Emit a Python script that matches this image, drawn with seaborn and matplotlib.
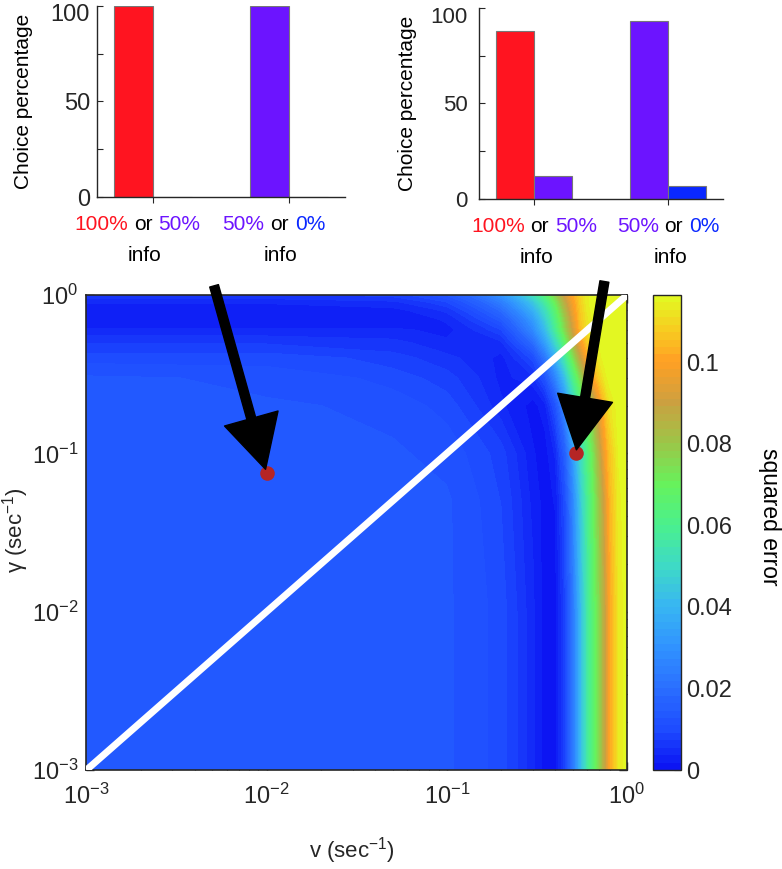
import numpy as np
import pandas as pd
import matplotlib
matplotlib.use("Agg")
import matplotlib.pyplot as plt
import matplotlib.transforms as mtransforms
import seaborn as sns
from matplotlib.colors import LinearSegmentedColormap
from matplotlib.offsetbox import TextArea, HPacker, AnnotationBbox
from matplotlib.ticker import LogLocator, NullFormatter

# ---- bar chart data (choice percentage) ----
groups = ["high", "low"]
left_first = [100, 100]
left_second = [0, 0]
right_first = [88, 93]
right_second = [12, 7]

# ---- squared error surface ----
v_grid = [0.001, 0.01, 0.05, 0.1, 0.2, 0.3, 0.35, 0.4, 0.45, 0.5,
          0.55, 0.6, 0.65, 0.7, 0.75, 0.8, 0.9, 1.0]
gamma_grid = [0.001, 0.01, 0.05, 0.1, 0.2, 0.3, 0.4, 0.5, 0.6, 0.7, 0.8, 0.9, 1.0]
err_g0001 = [0.014, 0.014, 0.014, 0.013, 0.010, 0.004, 0.001, 0.001, 0.008, 0.022, 0.040, 0.055, 0.066, 0.076, 0.087, 0.100, 0.113, 0.116]
err_g001 = [0.014, 0.014, 0.014, 0.013, 0.010, 0.004, 0.001, 0.001, 0.008, 0.022, 0.040, 0.055, 0.066, 0.076, 0.087, 0.100, 0.113, 0.116]
err_g005 = [0.014, 0.014, 0.014, 0.013, 0.009, 0.003, 0.001, 0.002, 0.010, 0.026, 0.044, 0.058, 0.069, 0.080, 0.091, 0.103, 0.114, 0.116]
err_g01 = [0.014, 0.014, 0.013, 0.012, 0.008, 0.002, 0.001, 0.004, 0.015, 0.032, 0.050, 0.062, 0.073, 0.085, 0.097, 0.106, 0.115, 0.116]
err_g02 = [0.014, 0.013, 0.012, 0.010, 0.004, 0.001, 0.003, 0.012, 0.028, 0.046, 0.060, 0.071, 0.083, 0.095, 0.105, 0.112, 0.116, 0.116]
err_g03 = [0.013, 0.012, 0.010, 0.008, 0.003, 0.005, 0.012, 0.026, 0.042, 0.060, 0.075, 0.088, 0.100, 0.108, 0.113, 0.116, 0.116, 0.116]
err_g04 = [0.010, 0.010, 0.008, 0.006, 0.003, 0.010, 0.022, 0.038, 0.055, 0.072, 0.088, 0.100, 0.108, 0.113, 0.116, 0.116, 0.116, 0.116]
err_g05 = [0.007, 0.007, 0.006, 0.004, 0.005, 0.019, 0.033, 0.049, 0.066, 0.083, 0.097, 0.107, 0.112, 0.115, 0.116, 0.116, 0.116, 0.116]
err_g06 = [0.004, 0.004, 0.004, 0.003, 0.009, 0.027, 0.041, 0.058, 0.075, 0.090, 0.104, 0.111, 0.115, 0.116, 0.116, 0.116, 0.116, 0.116]
err_g07 = [0.002, 0.002, 0.002, 0.004, 0.014, 0.032, 0.046, 0.062, 0.078, 0.093, 0.106, 0.112, 0.115, 0.116, 0.116, 0.116, 0.116, 0.116]
err_g08 = [0.002, 0.002, 0.003, 0.006, 0.019, 0.038, 0.051, 0.066, 0.082, 0.096, 0.107, 0.113, 0.116, 0.116, 0.116, 0.116, 0.116, 0.116]
err_g09 = [0.004, 0.004, 0.005, 0.009, 0.024, 0.044, 0.057, 0.071, 0.086, 0.098, 0.108, 0.114, 0.116, 0.116, 0.116, 0.116, 0.116, 0.116]
err_g1 = [0.007, 0.007, 0.008, 0.013, 0.030, 0.052, 0.064, 0.077, 0.091, 0.101, 0.109, 0.114, 0.116, 0.116, 0.116, 0.116, 0.116, 0.116]

diag = [1e-3, 1.0]
dots_v = [0.01, 0.52]
dots_gamma = [0.075, 0.1]

cbar_ticks = [0, 0.02, 0.04, 0.06, 0.08, 0.1]
cbar_labels = ["0", "0.02", "0.04", "0.06", "0.08", "0.1"]
log_ticks = [1e-3, 1e-2, 1e-1, 1.0]
log_labels = [r"$\mathregular{10^{-3}}$", r"$\mathregular{10^{-2}}$",
              r"$\mathregular{10^{-1}}$", r"$\mathregular{10^{0}}$"]

RED = "#ff1420"
PURPLE = "#6c14ff"
BLUE = "#0a28ff"
DARK = "#262626"

sns.set_style("ticks")
plt.rcParams["font.family"] = ["Liberation Sans", "DejaVu Sans"]
plt.rcParams["mathtext.fontset"] = "custom"
plt.rcParams["mathtext.rm"] = "Liberation Sans"
plt.rcParams["text.color"] = DARK

fig = plt.figure(figsize=(7.82, 8.69), dpi=100)

ax_l = fig.add_axes([0.124, 0.7733, 0.317, 0.2198])
ax_r = fig.add_axes([0.6125, 0.771, 0.312, 0.2198])
ax_h = fig.add_axes([0.1105, 0.1139, 0.6913, 0.5466])
cax = fig.add_axes([0.835, 0.1139, 0.0358, 0.5466])


def info_label(ax, xpos, parts, size, dx1, dx2, dy1, dy2):
    areas = [TextArea(t, textprops=dict(color=c, size=size)) for t, c in parts]
    pack = HPacker(children=areas, align="baseline", pad=0, sep=4.2)
    ab = AnnotationBbox(pack, (xpos, 0), xycoords=("data", "axes fraction"),
                        xybox=(dx1, -dy1), boxcoords="offset points",
                        frameon=False, box_alignment=(0.5, 0.5), annotation_clip=False)
    ax.add_artist(ab)
    ax.annotate("info", (xpos, 0), xycoords=("data", "axes fraction"),
                xytext=(dx2, -dy2), textcoords="offset points",
                ha="center", va="center", size=size, color="black",
                annotation_clip=False)


def draw_bars(ax, first, second, tick_size, tick_pad, label_pad, dx1, dx2):
    df = pd.DataFrame({"group": groups * 2,
                       "slot": ["a"] * 2 + ["b"] * 2,
                       "pct": first + second})
    sns.barplot(data=df, x="group", y="pct", hue="slot", width=0.57, ax=ax,
                legend=False, edgecolor="#777777", linewidth=0.8, saturation=1)
    for patch, c in zip(ax.patches, [RED, PURPLE, PURPLE, BLUE]):
        patch.set_facecolor(c)
    ax.set_xlim(-0.41, 1.41)
    ax.set_ylim(0, 100)
    ax.set_yticks([0, 25, 50, 75, 100])
    ax.set_yticklabels(["0", "", "50", "", "100"])
    ax.set_xticks([0, 1])
    ax.set_xticklabels(["", ""])
    ax.set_xlabel("")
    ax.set_ylabel("Choice percentage", fontsize=15, color="black", labelpad=label_pad)
    ax.tick_params(axis="y", direction="in", length=4, labelsize=tick_size,
                   color=DARK, labelcolor=DARK, pad=tick_pad)
    ax.tick_params(axis="x", direction="out", length=4, color=DARK)
    # MATLAB draws the top label a little below its tick
    top = ax.get_yticklabels()[-1]
    top.set_transform(top.get_transform() +
                      mtransforms.ScaledTranslation(0, -5 / 72, fig.dpi_scale_trans))
    sns.despine(ax=ax)
    for s in ["left", "bottom"]:
        ax.spines[s].set_color(DARK)
        ax.spines[s].set_linewidth(1.0)
    info_label(ax, 0, [("100%", RED), ("or", "black"), ("50%", PURPLE)], 15, dx1, dx2, 20, 42)
    info_label(ax, 1, [("50%", PURPLE), ("or", "black"), ("0%", BLUE)], 15, dx1, dx2, 20, 42)


draw_bars(ax_l, left_first, left_second, 17, 5, 13, -11, -6)
draw_bars(ax_r, right_first, right_second, 16, 8, 10, 0, 2)

# ---- squared error map ----
cmap = LinearSegmentedColormap.from_list("sqerr", [
    (0.000, "#0a10f2"), (0.086, "#1e4cff"), (0.172, "#2a6eff"),
    (0.258, "#3092ff"), (0.345, "#38b6f2"), (0.431, "#3edac6"),
    (0.517, "#4af08e"), (0.603, "#66f25c"), (0.690, "#9cc648"),
    (0.776, "#cca040"), (0.862, "#ffa024"), (0.930, "#f8cc20"),
    (1.000, "#e2fa22")])

V, G = np.meshgrid(v_grid, gamma_grid)
Z = np.array([err_g0001, err_g001, err_g005, err_g01, err_g02, err_g03, err_g04,
              err_g05, err_g06, err_g07, err_g08, err_g09, err_g1])
levels = np.linspace(0, 0.1165, 65)
cs = ax_h.contourf(V, G, Z, levels=levels, cmap=cmap, vmin=0, vmax=0.1165)
ax_h.set_xscale("log")
ax_h.set_yscale("log")
ax_h.set_xlim(1e-3, 1)
ax_h.set_ylim(1e-3, 1)

ax_h.plot(diag, diag, color="white", lw=5, solid_capstyle="butt", zorder=3)
ax_h.scatter(dots_v, dots_gamma, s=110, color="#b52525", zorder=4, linewidths=0)

ax_h.set_xticks(log_ticks)
ax_h.set_xticklabels(log_labels)
ax_h.set_yticks(log_ticks)
ax_h.set_yticklabels(log_labels)
ax_h.xaxis.set_minor_locator(LogLocator(base=10, subs=np.arange(2, 10)))
ax_h.yaxis.set_minor_locator(LogLocator(base=10, subs=np.arange(2, 10)))
ax_h.xaxis.set_minor_formatter(NullFormatter())
ax_h.yaxis.set_minor_formatter(NullFormatter())
ax_h.tick_params(which="both", direction="in", top=True, right=True, color=DARK,
                 labelcolor=DARK, labelsize=17)
ax_h.tick_params(which="major", length=6, width=1)
ax_h.tick_params(which="minor", length=3, width=0.8)
ax_h.tick_params(axis="x", pad=10)
ax_h.tick_params(axis="y", pad=6)
for s in ax_h.spines.values():
    s.set_color(DARK)
    s.set_linewidth(1.2)

fig.text(352 / 782, 1 - 851 / 869, r"v (sec$\mathregular{^{-1}}$)", fontsize=16,
         ha="center", va="center", color=DARK)
fig.text(16 / 782, 1 - 530 / 869, r"γ (sec$\mathregular{^{-1}}$)", fontsize=16,
         ha="center", va="center", rotation=90, color=DARK)

cb = fig.colorbar(cs, cax=cax)
cb.set_ticks(cbar_ticks)
cb.set_ticklabels(cbar_labels)
cb.ax.tick_params(direction="in", length=5, labelsize=17, color=DARK,
                  labelcolor=DARK, pad=4)
cb.outline.set_edgecolor(DARK)
cb.outline.set_linewidth(1.0)
fig.text(770 / 782, 1 - 517 / 869, "squared error", fontsize=16.5,
         ha="center", va="center", rotation=-90, color="black")

# ---- arrows pointing at the two parameter points ----
arrow_kw = dict(facecolor="black", edgecolor="black", width=6.5,
                headwidth=40, headlength=38, shrink=0.02)
ax_h.annotate("", xy=(dots_v[0], dots_gamma[0]), xycoords="data",
              xytext=(213, 869 - 282), textcoords="figure pixels",
              arrowprops=arrow_kw, annotation_clip=False, zorder=5)
ax_h.annotate("", xy=(dots_v[1], dots_gamma[1]), xycoords="data",
              xytext=(605, 869 - 278), textcoords="figure pixels",
              arrowprops=arrow_kw, annotation_clip=False, zorder=5)

fig.savefig("out.png", dpi=100)
plt.close(fig)
